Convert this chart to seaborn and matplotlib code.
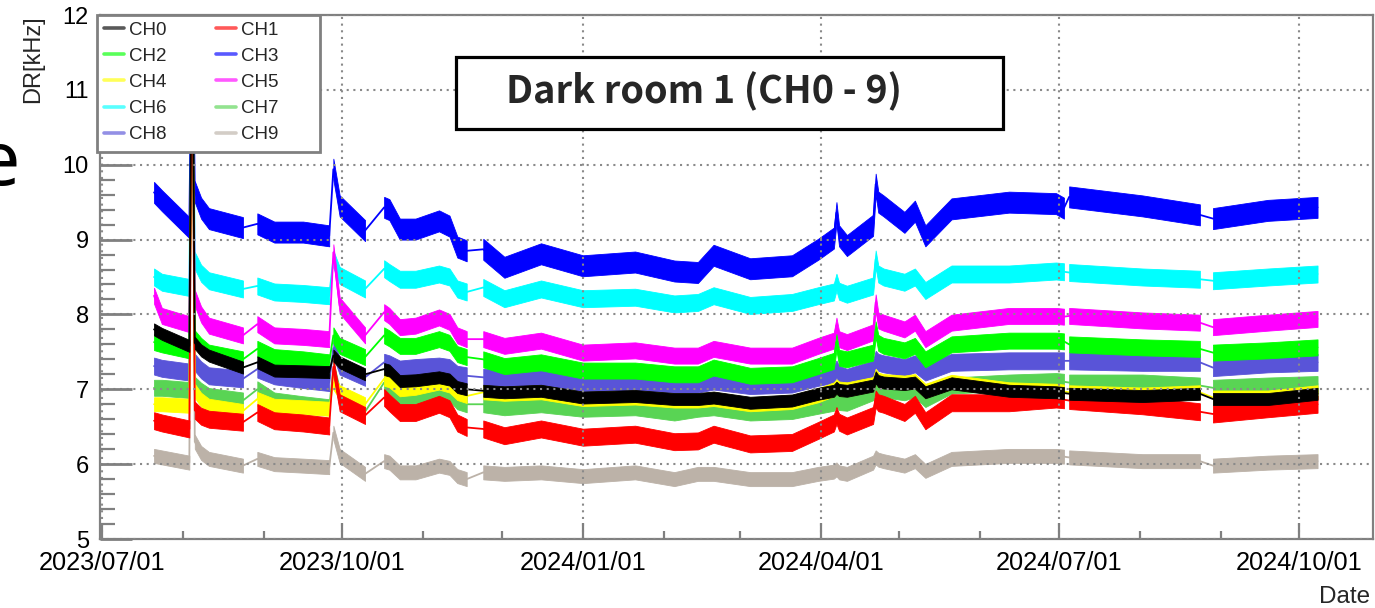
import numpy as np
import pandas as pd
import matplotlib
matplotlib.use("Agg")
import matplotlib.pyplot as plt
import matplotlib.dates as mdates
from matplotlib.lines import Line2D
from matplotlib.patches import Rectangle
import seaborn as sns

# ---------------- data ----------------
dates = ["2023-07-21", "2023-07-24", "2023-08-03 12:00", "2023-08-04 14:00", "2023-08-05 14:00",
         "2023-08-08", "2023-08-11", "2023-08-24", "2023-08-29 12:00", "2023-09-05",
         "2023-09-16", "2023-09-26", "2023-09-27 14:00", "2023-09-30", "2023-10-09 17:00",
         "2023-10-17", "2023-10-19", "2023-10-23", "2023-10-29", "2023-11-07",
         "2023-11-11", "2023-11-14", "2023-11-17 14:00", "2023-11-23 22:00", "2023-12-02",
         "2023-12-16", "2024-01-01", "2024-01-21", "2024-02-05", "2024-02-14",
         "2024-02-20", "2024-03-05", "2024-03-21", "2024-03-31", "2024-04-06",
         "2024-04-07", "2024-04-08", "2024-04-11", "2024-04-21", "2024-04-22",
         "2024-04-23", "2024-04-25", "2024-05-03", "2024-05-07", "2024-05-11",
         "2024-05-21", "2024-06-12", "2024-06-30", "2024-07-03", "2024-07-05",
         "2024-08-02", "2024-08-24", "2024-08-29", "2024-09-19", "2024-10-08"]

ch0 = [7.80, 7.74, 7.58, 12.5, 7.62, 7.52, 7.45, 7.29, 7.36, 7.25, 7.24, 7.23, 7.45, 7.36, 7.20,
       7.27, 7.25, 7.11, 7.12, 7.16, 7.13, 7.03, 7.00, 6.98, 6.96, 6.98, 6.89, 6.91, 6.87, 6.87,
       6.89, 6.82, 6.85, 6.94, 6.98, 7.02, 6.99, 6.98, 7.05, 7.16, 7.11, 7.09, 7.07, 7.09, 6.96,
       7.08, 6.98, 6.96, 6.95, 6.94, 6.91, 6.94, 6.87, 6.87, 6.94]
ch1 = [6.58, 6.55, 6.47, 12.5, 6.72, 6.64, 6.60, 6.56, 6.69, 6.58, 6.55, 6.51, 7.30, 6.82, 6.65,
       6.89, 6.82, 6.69, 6.69, 6.80, 6.74, 6.55, 6.49, 6.47, 6.38, 6.47, 6.36, 6.40, 6.30, 6.31,
       6.40, 6.27, 6.29, 6.45, 6.55, 6.65, 6.56, 6.51, 6.65, 6.87, 6.82, 6.80, 6.69, 6.80, 6.58,
       6.82, 6.82, 6.87, 6.86, 6.85, 6.78, 6.70, 6.67, 6.74, 6.80]
ch2 = [7.63, 7.60, 7.52, 12.5, 7.68, 7.58, 7.49, 7.40, 7.54, 7.43, 7.40, 7.36, 7.72, 7.58, 7.43,
       7.72, 7.68, 7.58, 7.58, 7.67, 7.62, 7.47, 7.43, 7.40, 7.31, 7.36, 7.25, 7.25, 7.20, 7.20,
       7.29, 7.18, 7.20, 7.31, 7.38, 7.63, 7.42, 7.40, 7.49, 7.80, 7.62, 7.58, 7.52, 7.58, 7.40,
       7.60, 7.65, 7.65, 7.64, 7.60, 7.56, 7.54, 7.49, 7.52, 7.56]
ch3 = [9.63, 9.52, 9.16, 12.5, 9.64, 9.42, 9.28, 9.16, 9.21, 9.10, 9.10, 9.05, 9.94, 9.45, 9.12,
       9.43, 9.40, 9.14, 9.14, 9.25, 9.18, 8.90, 8.85, 8.87, 8.63, 8.81, 8.65, 8.70, 8.58, 8.56,
       8.79, 8.61, 8.65, 8.87, 9.02, 9.36, 9.05, 8.92, 9.19, 9.74, 9.50, 9.45, 9.23, 9.38, 9.05,
       9.41, 9.50, 9.48, 9.42, 9.57, 9.45, 9.33, 9.28, 9.39, 9.43]
ch4 = [6.80, 6.80, 6.78, 12.5, 6.98, 6.86, 6.78, 6.71, 6.87, 6.78, 6.76, 6.74, 7.09, 6.96, 6.80,
       7.14, 7.12, 7.00, 7.02, 7.09, 7.05, 6.95, 6.91, 6.96, 6.94, 6.96, 6.87, 6.89, 6.85, 6.85,
       6.87, 6.80, 6.83, 6.92, 7.00, 7.04, 7.01, 7.00, 7.07, 7.18, 7.13, 7.11, 7.09, 7.11, 6.98,
       7.10, 7.00, 6.98, 6.97, 6.96, 6.93, 6.96, 6.89, 6.89, 6.96]
ch5 = [8.25, 7.98, 7.87, 12.5, 8.22, 8.00, 7.85, 7.72, 7.87, 7.72, 7.70, 7.67, 8.83, 8.12, 7.72,
       8.03, 7.98, 7.83, 7.85, 7.96, 7.90, 7.72, 7.67, 7.67, 7.58, 7.65, 7.49, 7.52, 7.45, 7.45,
       7.54, 7.45, 7.45, 7.58, 7.65, 7.85, 7.67, 7.63, 7.76, 8.16, 7.92, 7.89, 7.80, 7.89, 7.67,
       7.89, 7.98, 7.98, 7.97, 7.98, 7.92, 7.89, 7.83, 7.89, 7.94]
ch6 = [8.50, 8.43, 8.36, 12.5, 8.72, 8.55, 8.45, 8.34, 8.38, 8.30, 8.28, 8.25, 8.74, 8.52, 8.34,
       8.61, 8.56, 8.47, 8.47, 8.54, 8.50, 8.34, 8.30, 8.36, 8.21, 8.34, 8.21, 8.23, 8.14, 8.16,
       8.25, 8.12, 8.16, 8.25, 8.30, 8.43, 8.31, 8.27, 8.38, 8.74, 8.54, 8.50, 8.43, 8.50, 8.32,
       8.54, 8.54, 8.58, 8.57, 8.56, 8.50, 8.47, 8.45, 8.50, 8.54]
ch7 = [7.02, 7.02, 6.99, 12.5, 7.06, 6.98, 6.91, 6.85, 7.00, 6.85, 6.80, 6.76, 7.27, 6.91, 6.70,
       7.09, 7.05, 6.89, 6.89, 6.98, 6.95, 6.84, 6.80, 6.80, 6.76, 6.80, 6.74, 6.76, 6.69, 6.74,
       6.76, 6.69, 6.71, 6.78, 6.82, 6.87, 6.83, 6.82, 6.96, 7.05, 7.02, 7.00, 6.96, 7.00, 6.87,
       7.05, 7.09, 7.11, 7.10, 7.09, 7.09, 7.05, 7.02, 7.05, 7.07]
ch8 = [7.31, 7.28, 7.23, 12.5, 7.36, 7.26, 7.18, 7.14, 7.27, 7.18, 7.13, 7.09, 7.55, 7.31, 7.16,
       7.36, 7.34, 7.27, 7.29, 7.31, 7.29, 7.20, 7.18, 7.16, 7.14, 7.14, 7.09, 7.09, 7.07, 7.07,
       7.11, 7.05, 7.07, 7.16, 7.20, 7.27, 7.20, 7.16, 7.27, 7.40, 7.36, 7.34, 7.29, 7.34, 7.23,
       7.36, 7.38, 7.38, 7.38, 7.38, 7.36, 7.36, 7.29, 7.34, 7.36]
ch9 = [6.11, 6.09, 6.02, 12.5, 6.30, 6.15, 6.07, 5.98, 6.07, 6.00, 5.98, 5.96, 6.42, 6.11, 5.87,
       6.04, 6.02, 5.89, 5.89, 5.98, 5.95, 5.84, 5.80, 5.89, 5.87, 5.89, 5.84, 5.89, 5.80, 5.87,
       5.87, 5.80, 5.80, 5.87, 5.90, 5.93, 5.89, 5.87, 6.02, 6.09, 6.06, 6.04, 5.98, 6.04, 5.91,
       6.07, 6.11, 6.11, 6.10, 6.09, 6.04, 6.04, 5.98, 6.02, 6.04]

channels = ["CH0", "CH1", "CH2", "CH3", "CH4", "CH5", "CH6", "CH7", "CH8", "CH9"]
series = [ch0, ch1, ch2, ch3, ch4, ch5, ch6, ch7, ch8, ch9]

# periods without data (joined by a plain line in the original)
gaps = [("2023-08-03 12:00", "2023-08-05 14:00"),
        ("2023-08-24", "2023-08-29 12:00"),
        ("2023-09-26", "2023-09-27 14:00"),
        ("2023-10-09 17:00", "2023-10-17"),
        ("2023-11-17 14:00", "2023-11-23 22:00"),
        ("2024-07-03", "2024-07-05"),
        ("2024-08-24", "2024-08-29")]

title_text = "Dark room 1 (CH0 - 9)"
y_label = "DR[kHz]"
x_label = "Date"

# ---------------- styling ----------------
colors = {"CH0": "#000000", "CH1": "#FF0000", "CH2": "#00FF00", "CH3": "#0000FF",
          "CH4": "#FFFF00", "CH5": "#FF00FF", "CH6": "#00FFFF", "CH7": "#59D454",
          "CH8": "#5954D8", "CH9": "#BCB2A8"}
band_px = {"CH0": 12, "CH1": 17, "CH2": 16, "CH3": 21, "CH4": 14, "CH5": 16,
           "CH6": 17, "CH7": 16, "CH8": 17, "CH9": 14}

sns.set_style("white")
plt.rcParams["font.family"] = ["Liberation Sans", "DejaVu Sans"]

W, H = 1375, 608
fig = plt.figure(figsize=(W / 100, H / 100), dpi=100)
ax = fig.add_axes([100 / W, 69 / H, 1273 / W, 524 / H])

dts = pd.to_datetime(dates, format="mixed")
gap_pairs = [(pd.Timestamp(a), pd.Timestamp(b)) for a, b in gaps]


def seg_id(t):
    for a, b in gap_pairs:
        if a < t < b:
            return np.nan
    return float(sum(1 for a, b in gap_pairs if b <= t))


segs = np.array([seg_id(t) for t in dts])
px_per_unit = 524 / 7.0

for ch, vals in reversed(list(zip(channels, series))):
    c = colors[ch]
    df_all = pd.DataFrame({"date": dts, "val": vals})
    sns.lineplot(data=df_all, x="date", y="val", color=c, linewidth=1.3,
                 estimator=None, ax=ax, legend=False, zorder=2)
    hw = band_px[ch] / px_per_unit / 2
    v = np.asarray(vals)
    for s in np.unique(segs[~np.isnan(segs)]):
        m = segs == s
        ax.fill_between(dts[m], v[m] - hw, v[m] + hw, color=c, linewidth=0.6,
                        edgecolor=c, zorder=2)

# ---------------- axes ----------------
ax.set_xlim(pd.Timestamp("2023-06-30 08:00"), pd.Timestamp("2024-10-29 05:00"))
ax.set_ylim(5, 12)
ax.xaxis.set_major_locator(mdates.MonthLocator(bymonth=[1, 4, 7, 10]))
ax.xaxis.set_minor_locator(mdates.MonthLocator())
ax.xaxis.set_major_formatter(mdates.DateFormatter("%Y/%m/%d"))
ax.set_yticks(np.arange(5, 13, 1))
ax.set_yticks(np.arange(5, 12.01, 0.2), minor=True)

axis_gray = "#808080"
for s in ax.spines.values():
    s.set_color(axis_gray)
    s.set_linewidth(1.6)
ax.tick_params(axis="both", which="both", direction="in", colors=axis_gray,
               labelcolor="black", left=True, bottom=True, top=False, right=False)
ax.tick_params(axis="y", which="major", length=23, width=2.0, pad=8, labelsize=17)
ax.tick_params(axis="y", which="minor", length=11, width=1.6)
ax.tick_params(axis="x", which="major", length=11.5, width=1.6, pad=9, labelsize=18.3)
ax.tick_params(axis="x", which="minor", length=6, width=1.6)
ax.grid(True, which="major", color="#8a8a8a", linestyle=(0, (1, 2.2)), linewidth=1.5)
ax.set_axisbelow(False)

ax.set_ylabel(y_label, fontsize=17, loc="top")
ax.yaxis.set_label_coords(-0.044, 1.0)
ax.set_xlabel(x_label, fontsize=17.5, loc="right")
ax.xaxis.set_label_coords(0.998, -0.089)

# ---------------- legend ----------------
ax.add_patch(Rectangle((97 / W, (H - 152) / H), 223 / W, 137 / H,
                       transform=fig.transFigure, facecolor="white",
                       edgecolor=axis_gray, linewidth=2.0, zorder=19, clip_on=False))
order = ["CH0", "CH2", "CH4", "CH6", "CH8", "CH1", "CH3", "CH5", "CH7", "CH9"]
handles = [Line2D([], [], color=colors[ch], linewidth=2.6, alpha=0.65) for ch in order]
leg = ax.legend(handles, order, ncol=2, loc="upper left",
                bbox_to_anchor=(97 / W, (H - 15) / H),
                bbox_transform=fig.transFigure, borderaxespad=0, fontsize=13.5,
                handlelength=1.07, handletextpad=0.27, labelspacing=0.48,
                borderpad=0.35, columnspacing=2.65, frameon=False)
leg.set_zorder(20)

# ---------------- title box ----------------
fig.patches.append(Rectangle((456 / W, (H - 129) / H), 547 / W, 72 / H,
                             transform=fig.transFigure, facecolor="white",
                             edgecolor="black", linewidth=2.3, zorder=30))
fig.text(506 / W, (H - 103) / H, title_text, ha="left", va="baseline",
         fontsize=27.3, fontweight="bold", zorder=31,
         family=["Noto Sans CJK JP", "DejaVu Sans"])

# cut-off letter at the left edge of the original slide
fig.text(20 / W, (H - 185) / H, "e", ha="right", va="baseline", fontsize=54,
         family=["Noto Sans", "DejaVu Sans"], color="#000000")

fig.savefig("out.png", dpi=100)
